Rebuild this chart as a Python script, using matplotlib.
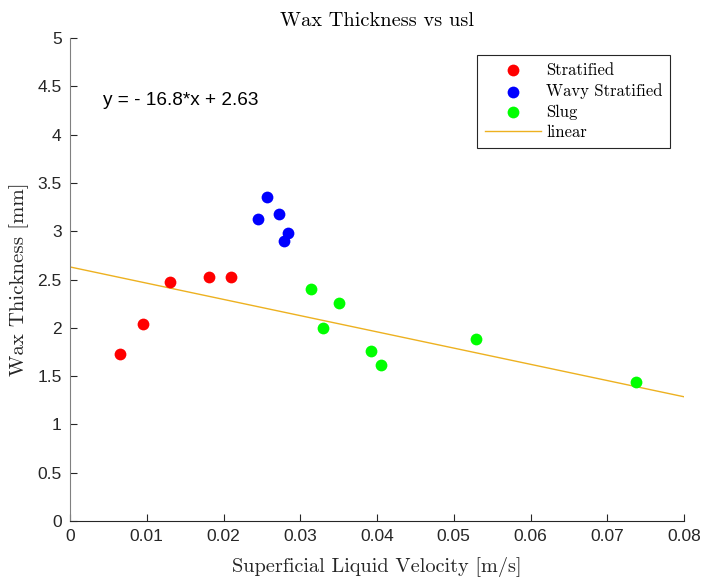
import matplotlib
matplotlib.use("Agg")
import matplotlib.pyplot as plt
import numpy as np

strat_x = [0.00651, 0.00951, 0.01307, 0.01807, 0.02102]
strat_y = [1.726, 2.039, 2.471, 2.529, 2.526]
wavy_x = [0.02446, 0.02567, 0.02723, 0.02840, 0.02784]
wavy_y = [3.123, 3.351, 3.175, 2.978, 2.899]
slug_x = [0.03144, 0.03509, 0.03300, 0.03926, 0.04048, 0.05286, 0.07375]
slug_y = [2.399, 2.257, 1.995, 1.757, 1.612, 1.881, 1.439]
slope, intercept = -16.8, 2.63
fit_x = [0.0, 0.08]

xticks = [0, 0.01, 0.02, 0.03, 0.04, 0.05, 0.06, 0.07, 0.08]
xticklabels = ["0", "0.01", "0.02", "0.03", "0.04", "0.05", "0.06", "0.07", "0.08"]
yticks = [0, 0.5, 1, 1.5, 2, 2.5, 3, 3.5, 4, 4.5, 5]
yticklabels = ["0", "0.5", "1", "1.5", "2", "2.5", "3", "3.5", "4", "4.5", "5"]

serif = ["cmr10", "DejaVu Serif"]
sans = ["Liberation Sans", "DejaVu Sans"]

fig = plt.figure(figsize=(7.06, 5.79), dpi=100)
ax = fig.add_axes([70/706, 58/579, 614/706, 483/579])

ms = 72
ax.scatter(strat_x, strat_y, s=ms, color="#ff0000", label="Stratified", zorder=3, linewidths=0)
ax.scatter(wavy_x, wavy_y, s=ms, color="#0000ff", label="Wavy Stratified", zorder=3, linewidths=0)
ax.scatter(slug_x, slug_y, s=ms, color="#00ff00", label="Slug", zorder=3, linewidths=0)
fit_y = [slope * v + intercept for v in fit_x]
ax.plot(fit_x, fit_y, color="#EDB120", lw=1.0, label="linear", zorder=2)

ax.set_xlim(0, 0.08)
ax.set_ylim(0, 5)
ax.set_xticks(xticks)
ax.set_xticklabels(xticklabels, fontfamily=sans, fontsize=12.5, color="#262626")
ax.set_yticks(yticks)
ax.set_yticklabels(yticklabels, fontfamily=sans, fontsize=12.5, color="#262626")
ax.tick_params(direction="in", length=5, width=0.8, color="#262626", pad=6)
for s in ["top", "right"]:
    ax.spines[s].set_visible(False)
for s in ["left", "bottom"]:
    ax.spines[s].set_color("#262626")
    ax.spines[s].set_linewidth(0.8)
ax.spines["left"].set_color("#808080")

ax.set_title("Wax Thickness vs usl", fontfamily=serif, fontsize=14.7, pad=9)
ax.set_xlabel("Superficial Liquid Velocity [m/s]", fontfamily=serif, fontsize=14.6, color="#262626", labelpad=9)
ax.set_ylabel("Wax Thickness [mm]", fontfamily=serif, fontsize=15, color="#262626", labelpad=6)

ax.text(0.0043, 4.35, "y = - 16.8*x + 2.63", fontfamily=sans, fontsize=13.7, va="center", ha="left")

leg = ax.legend(loc="upper left", bbox_to_anchor=(407/614, 466/483), borderaxespad=0,
                prop={"family": serif, "size": 12},
                fancybox=False, edgecolor="#262626", framealpha=1, borderpad=0.45,
                handlelength=3.4, handletextpad=0.3, labelspacing=0.32)
leg.get_frame().set_linewidth(0.8)

fig.savefig("out.png", dpi=100)
